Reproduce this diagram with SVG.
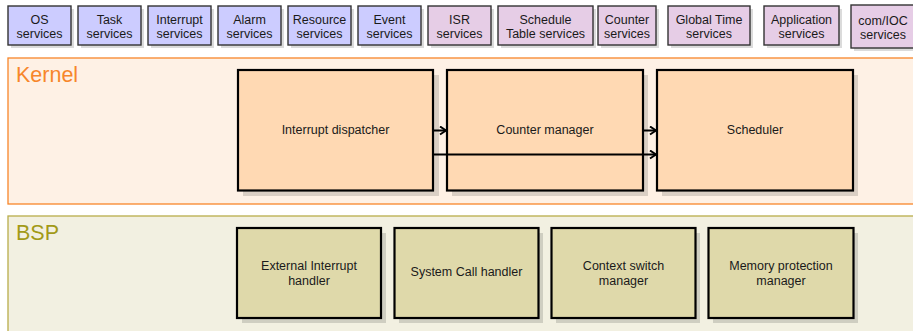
<svg xmlns="http://www.w3.org/2000/svg" width="913" height="331" viewBox="0 0 913 331">
  <defs>
    <marker id="tip" viewBox="0 0 8 10" refX="7" refY="5" markerWidth="8" markerHeight="10" markerUnits="userSpaceOnUse" orient="auto">
      <path d="M1,1 L7,5 L1,9" fill="none" stroke="#000" stroke-width="2" stroke-linejoin="miter"/>
    </marker>
  </defs>
  <style>
    text { font-family: "Liberation Sans", "DejaVu Sans", sans-serif; fill: #1a1a1a; text-anchor: middle; }
    .svc text { font-size: 12.5px; }
    .shadow { fill: #000; opacity: 0.14; }
    .blue { fill: #ccccff; stroke: #333; stroke-width: 1.4; }
    .pink { fill: #e6cde6; stroke: #333; stroke-width: 1.4; }
    .knode { fill: #ffd9b3; stroke: #000; stroke-width: 2.2; }
    .bnode { fill: #dfd9aa; stroke: #000; stroke-width: 2.2; }
    .node text { font-size: 12.5px; }
    .wire { fill: none; stroke: #000; stroke-width: 2; marker-end: url(#tip); }
  </style>

  <rect width="913" height="331" fill="#fff"/>

  <!-- service boxes along the top -->
  <g id="svc-os" class="svc">
    <rect class="shadow" x="11" y="9" width="63" height="39"/>
    <rect class="blue" x="8" y="6" width="63" height="39"/>
    <text x="39.5" y="24">OS</text><text x="39.5" y="37.5">services</text>
  </g>
  <g id="svc-task" class="svc">
    <rect class="shadow" x="81" y="9" width="63" height="39"/>
    <rect class="blue" x="78" y="6" width="63" height="39"/>
    <text x="109.5" y="24">Task</text><text x="109.5" y="37.5">services</text>
  </g>
  <g id="svc-interrupt" class="svc">
    <rect class="shadow" x="151" y="9" width="63" height="39"/>
    <rect class="blue" x="148" y="6" width="63" height="39"/>
    <text x="179.5" y="24">Interrupt</text><text x="179.5" y="37.5">services</text>
  </g>
  <g id="svc-alarm" class="svc">
    <rect class="shadow" x="221" y="9" width="63" height="39"/>
    <rect class="blue" x="218" y="6" width="63" height="39"/>
    <text x="249.5" y="24">Alarm</text><text x="249.5" y="37.5">services</text>
  </g>
  <g id="svc-resource" class="svc">
    <rect class="shadow" x="291" y="9" width="63" height="39"/>
    <rect class="blue" x="288" y="6" width="63" height="39"/>
    <text x="319.5" y="24">Resource</text><text x="319.5" y="37.5">services</text>
  </g>
  <g id="svc-event" class="svc">
    <rect class="shadow" x="361" y="9" width="63" height="39"/>
    <rect class="blue" x="358" y="6" width="63" height="39"/>
    <text x="389.5" y="24">Event</text><text x="389.5" y="37.5">services</text>
  </g>
  <g id="svc-isr" class="svc">
    <rect class="shadow" x="431" y="9" width="63" height="39"/>
    <rect class="pink" x="428" y="6" width="63" height="39"/>
    <text x="459.5" y="24">ISR</text><text x="459.5" y="37.5">services</text>
  </g>
  <g id="svc-schedtable" class="svc">
    <rect class="shadow" x="501" y="9" width="95" height="39"/>
    <rect class="pink" x="498" y="6" width="95" height="39"/>
    <text x="545.5" y="24">Schedule</text><text x="545.5" y="37.5">Table services</text>
  </g>
  <g id="svc-counter" class="svc">
    <rect class="shadow" x="601" y="9" width="58" height="39"/>
    <rect class="pink" x="598" y="6" width="58" height="39"/>
    <text x="627" y="24">Counter</text><text x="627" y="37.5">services</text>
  </g>
  <g id="svc-globaltime" class="svc">
    <rect class="shadow" x="671" y="9" width="82" height="39"/>
    <rect class="pink" x="668" y="6" width="82" height="39"/>
    <text x="709" y="24">Global Time</text><text x="709" y="37.5">services</text>
  </g>
  <g id="svc-application" class="svc">
    <rect class="shadow" x="767" y="9" width="75" height="39"/>
    <rect class="pink" x="764" y="6" width="75" height="39"/>
    <text x="801.5" y="24">Application</text><text x="801.5" y="37.5">services</text>
  </g>
  <g id="svc-comioc" class="svc">
    <rect class="shadow" x="854" y="8" width="64" height="43"/>
    <rect class="pink" x="851" y="5" width="64" height="43"/>
    <text x="883" y="25">com/IOC</text><text x="883" y="39">services</text>
  </g>

  <!-- Kernel layer -->
  <g id="layer-kernel">
    <rect x="8" y="58" width="912" height="146" fill="#fef1e5" stroke="#f7862a" stroke-width="1.3"/>
    <text x="16" y="82" style="font-size:21.5px;fill:#f7862a;text-anchor:start">Kernel</text>
  </g>

  <!-- BSP layer -->
  <g id="layer-bsp">
    <rect x="8" y="216" width="912" height="130" fill="#f2f0e1" stroke="#b8ad4a" stroke-width="1.3"/>
    <text x="16" y="240" style="font-size:21.5px;fill:#a29a18;text-anchor:start">BSP</text>
  </g>

  <!-- Kernel components -->
  <g id="interrupt-dispatcher" class="node">
    <rect class="shadow" x="243" y="75" width="196" height="121"/>
    <rect class="knode" x="238" y="70" width="195" height="120.5"/>
    <text x="335.5" y="134">Interrupt dispatcher</text>
  </g>
  <g id="counter-manager" class="node">
    <rect class="shadow" x="452" y="75" width="196" height="121"/>
    <rect class="knode" x="447" y="70" width="196" height="120.5"/>
    <text x="545" y="134">Counter manager</text>
  </g>
  <g id="scheduler" class="node">
    <rect class="shadow" x="662" y="75" width="196" height="121"/>
    <rect class="knode" x="657" y="70" width="196" height="120.5"/>
    <text x="755" y="134">Scheduler</text>
  </g>

  <!-- BSP components -->
  <g id="ext-interrupt-handler" class="node">
    <rect class="shadow" x="242" y="233" width="144" height="90"/>
    <rect class="bnode" x="237" y="228" width="144" height="90"/>
    <text x="309" y="270">External Interrupt</text><text x="309" y="284.5">handler</text>
  </g>
  <g id="syscall-handler" class="node">
    <rect class="shadow" x="399" y="233" width="144" height="90"/>
    <rect class="bnode" x="394.5" y="228" width="144" height="90"/>
    <text x="466.5" y="276">System Call handler</text>
  </g>
  <g id="context-switch-manager" class="node">
    <rect class="shadow" x="556" y="233" width="144" height="90"/>
    <rect class="bnode" x="551.5" y="228" width="144" height="90"/>
    <text x="623.5" y="270">Context switch</text><text x="623.5" y="284.5">manager</text>
  </g>
  <g id="memory-protection-manager" class="node">
    <rect class="shadow" x="713" y="233" width="145" height="90"/>
    <rect class="bnode" x="708.5" y="228" width="145" height="90"/>
    <text x="781" y="270">Memory protection</text><text x="781" y="284.5">manager</text>
  </g>

  <!-- connectors -->
  <g id="connectors">
    <path class="wire" d="M433,130.5 H446"/>
    <path class="wire" d="M643,130.5 H656"/>
    <path class="wire" d="M433,154.5 H656"/>
  </g>
</svg>
